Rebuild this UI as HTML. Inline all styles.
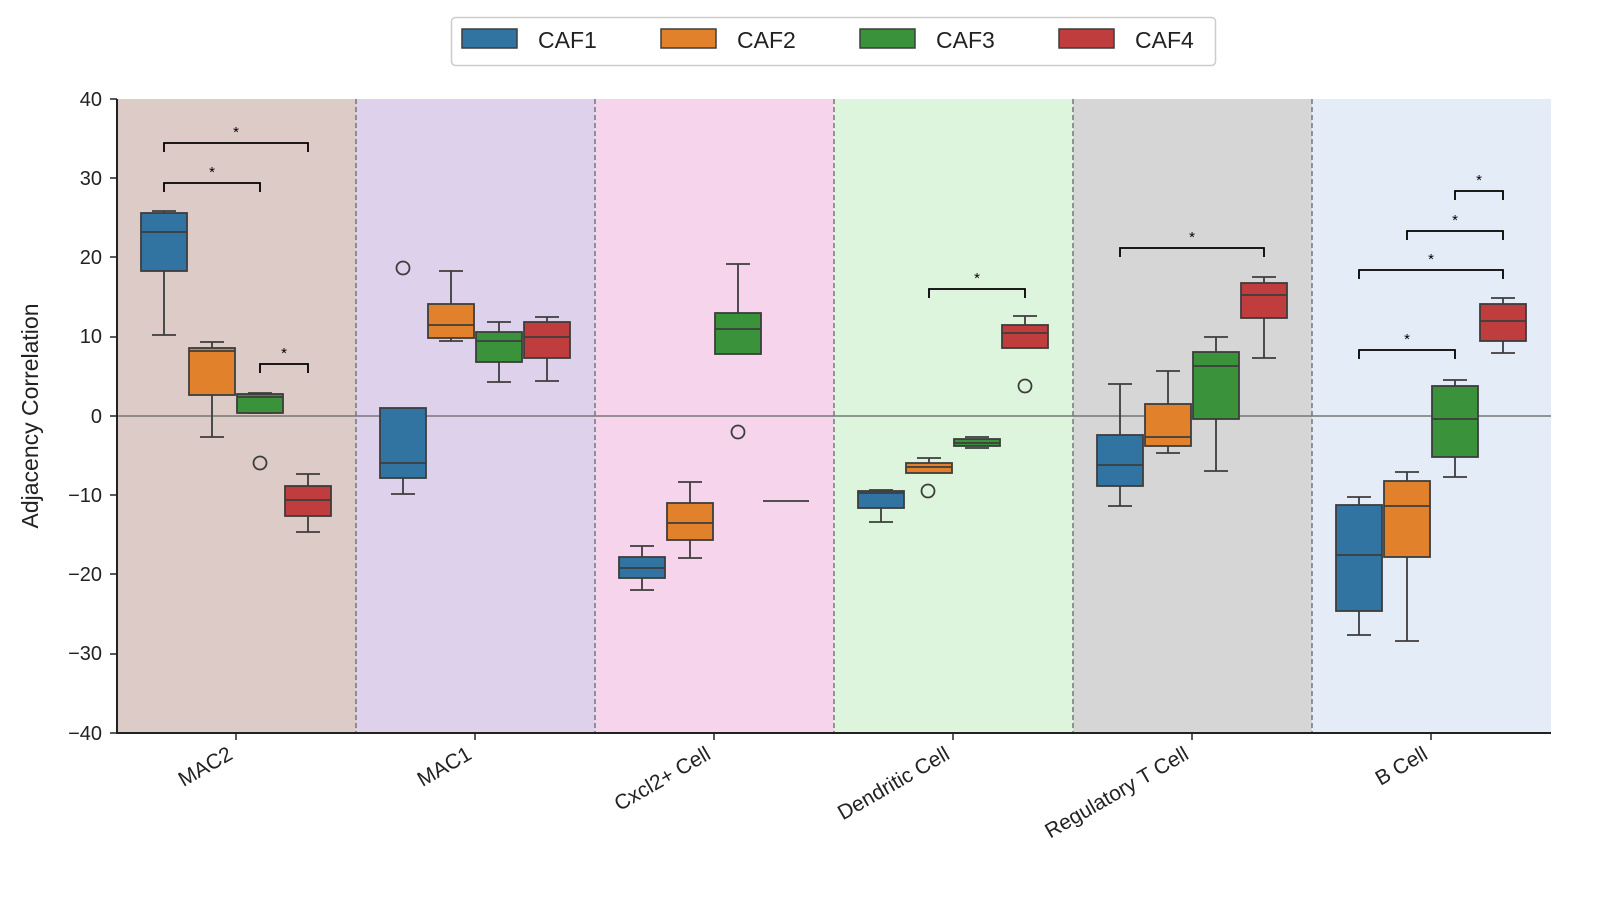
<!DOCTYPE html>
<html><head><meta charset="utf-8"><style>html,body{margin:0;padding:0;background:#fff;overflow:hidden;width:1600px;height:910px}svg{display:block;font-family:"Liberation Sans",Arial,sans-serif}</style></head><body>
<svg width="1600" height="910" viewBox="0 0 1600 910" xmlns="http://www.w3.org/2000/svg">
<rect x="117" y="99" width="239" height="634" fill="#dccbc7"/>
<rect x="356" y="99" width="239" height="634" fill="#ddd1ec"/>
<rect x="595" y="99" width="239" height="634" fill="#f5d4ec"/>
<rect x="834" y="99" width="239" height="634" fill="#ddf5dd"/>
<rect x="1073" y="99" width="239" height="634" fill="#d6d6d6"/>
<rect x="1312" y="99" width="239" height="634" fill="#e4ecf7"/>
<g stroke="#777" stroke-width="1.5" stroke-dasharray="5,3">
<line x1="356" y1="99" x2="356" y2="733"/><line x1="595" y1="99" x2="595" y2="733"/><line x1="834" y1="99" x2="834" y2="733"/><line x1="1073" y1="99" x2="1073" y2="733"/><line x1="1312" y1="99" x2="1312" y2="733"/>
</g>
<line x1="117" y1="416" x2="1551" y2="416" stroke="#777" stroke-width="1.5"/>
<g stroke="#3d3d3d" stroke-width="1.8">
<!-- MAC2 -->
<path d="M164 211V213M164 271V335M152 211H176M152 335H176" fill="none"/><rect x="141" y="213" width="46" height="58" fill="#3274a1"/><path d="M141 232H187"/>
<path d="M212 342V348M212 395V437M200 342H224M200 437H224" fill="none"/><rect x="189" y="348" width="46" height="47" fill="#e1812c"/><path d="M189 351H235"/>
<path d="M248 393H272M248 413H272" fill="none"/><rect x="237" y="394" width="46" height="19" fill="#3a923a"/><path d="M237 397H283"/>
<path d="M308 474V486M308 516V532M296 474H320M296 532H320" fill="none"/><rect x="285" y="486" width="46" height="30" fill="#c03d3e"/><path d="M285 500H331"/>
<!-- MAC1 -->
<path d="M403 478V494M391 494H415" fill="none"/><rect x="380" y="408" width="46" height="70" fill="#3274a1"/><path d="M380 463H426"/>
<path d="M451 271V304M451 338V341M439 271H463M439 341H463" fill="none"/><rect x="428" y="304" width="46" height="34" fill="#e1812c"/><path d="M428 325H474"/>
<path d="M499 322V332M499 362V382M487 322H511M487 382H511" fill="none"/><rect x="476" y="332" width="46" height="30" fill="#3a923a"/><path d="M476 341H522"/>
<path d="M547 317V322M547 358V381M535 317H559M535 381H559" fill="none"/><rect x="524" y="322" width="46" height="36" fill="#c03d3e"/><path d="M524 337H570"/>
<!-- Cxcl2 -->
<path d="M642 546V557M642 578V590M630 546H654M630 590H654" fill="none"/><rect x="619" y="557" width="46" height="21" fill="#3274a1"/><path d="M619 568H665"/>
<path d="M690 482V503M690 540V558M678 482H702M678 558H702" fill="none"/><rect x="667" y="503" width="46" height="37" fill="#e1812c"/><path d="M667 523H713"/>
<path d="M738 264V313M726 264H750" fill="none"/><rect x="715" y="313" width="46" height="41" fill="#3a923a"/><path d="M715 329H761"/>
<path d="M763 501H809"/>
<!-- Dendritic -->
<path d="M881 508V522M869 490H893M869 522H893" fill="none"/><rect x="858" y="491" width="46" height="17" fill="#3274a1"/><path d="M858 493H904"/>
<path d="M929 458V463M917 458H941" fill="none"/><rect x="906" y="463" width="46" height="10" fill="#e1812c"/><path d="M906 467H952"/>
<path d="M965 437H989M965 448H989" fill="none"/><rect x="954" y="439" width="46" height="7" fill="#3a923a"/><path d="M954 443H1000"/>
<path d="M1025 316V325M1013 316H1037" fill="none"/><rect x="1002" y="325" width="46" height="23" fill="#c03d3e"/><path d="M1002 333H1048"/>
<!-- Reg T -->
<path d="M1120 384V435M1120 486V506M1108 384H1132M1108 506H1132" fill="none"/><rect x="1097" y="435" width="46" height="51" fill="#3274a1"/><path d="M1097 465H1143"/>
<path d="M1168 371V404M1168 446V453M1156 371H1180M1156 453H1180" fill="none"/><rect x="1145" y="404" width="46" height="42" fill="#e1812c"/><path d="M1145 437H1191"/>
<path d="M1216 337V352M1216 419V471M1204 337H1228M1204 471H1228" fill="none"/><rect x="1193" y="352" width="46" height="67" fill="#3a923a"/><path d="M1193 366H1239"/>
<path d="M1264 277V283M1264 318V358M1252 277H1276M1252 358H1276" fill="none"/><rect x="1241" y="283" width="46" height="35" fill="#c03d3e"/><path d="M1241 295H1287"/>
<!-- B cell -->
<path d="M1359 497V505M1359 611V635M1347 497H1371M1347 635H1371" fill="none"/><rect x="1336" y="505" width="46" height="106" fill="#3274a1"/><path d="M1336 555H1382"/>
<path d="M1407 472V481M1407 557V641M1395 472H1419M1395 641H1419" fill="none"/><rect x="1384" y="481" width="46" height="76" fill="#e1812c"/><path d="M1384 506H1430"/>
<path d="M1455 380V386M1455 457V477M1443 380H1467M1443 477H1467" fill="none"/><rect x="1432" y="386" width="46" height="71" fill="#3a923a"/><path d="M1432 419H1478"/>
<path d="M1503 298V304M1503 341V353M1491 298H1515M1491 353H1515" fill="none"/><rect x="1480" y="304" width="46" height="37" fill="#c03d3e"/><path d="M1480 321H1526"/>
<!-- outliers -->
<g fill="none"><circle cx="260" cy="463" r="6.5"/><circle cx="403" cy="268" r="6.5"/><circle cx="738" cy="432" r="6.5"/><circle cx="928" cy="491" r="6.5"/><circle cx="1025" cy="386" r="6.5"/></g>
</g>
<g fill="none" stroke="#000" stroke-width="1.8">
<polyline points="164,192 164,183 260,183 260,192"/>
<polyline points="164,152 164,143 308,143 308,152"/>
<polyline points="260,373 260,364 308,364 308,373"/>
<polyline points="929,298 929,289 1025,289 1025,298"/>
<polyline points="1120,257 1120,248 1264,248 1264,257"/>
<polyline points="1359,359 1359,350 1455,350 1455,359"/>
<polyline points="1359,279 1359,270 1503,270 1503,279"/>
<polyline points="1407,240 1407,231 1503,231 1503,240"/>
<polyline points="1455,200 1455,191 1503,191 1503,200"/>
</g>
<g font-size="15" text-anchor="middle" fill="#000">
<text x="212" y="177">*</text><text x="236" y="137">*</text><text x="284" y="358">*</text><text x="977" y="283">*</text><text x="1192" y="242">*</text><text x="1407" y="344">*</text><text x="1431" y="264">*</text><text x="1455" y="225">*</text><text x="1479" y="185">*</text>
</g>
<g stroke="#222" stroke-width="2"><line x1="117" y1="99" x2="117" y2="734"/><line x1="116" y1="733" x2="1551" y2="733"/></g>
<g font-size="20" fill="#222" text-anchor="end">
<text x="102" y="106">40</text><text x="102" y="185">30</text><text x="102" y="264">20</text><text x="102" y="343">10</text><text x="102" y="423">0</text><text x="102" y="502">−10</text><text x="102" y="581">−20</text><text x="102" y="660">−30</text><text x="102" y="740">−40</text>
</g>
<g stroke="#222" stroke-width="1.5">
<line x1="110" y1="99" x2="117" y2="99"/><line x1="110" y1="178" x2="117" y2="178"/><line x1="110" y1="257" x2="117" y2="257"/><line x1="110" y1="337" x2="117" y2="337"/><line x1="110" y1="416" x2="117" y2="416"/><line x1="110" y1="495" x2="117" y2="495"/><line x1="110" y1="574" x2="117" y2="574"/><line x1="110" y1="654" x2="117" y2="654"/><line x1="110" y1="733" x2="117" y2="733"/>
<line x1="236" y1="733" x2="236" y2="740"/><line x1="475" y1="733" x2="475" y2="740"/><line x1="714" y1="733" x2="714" y2="740"/><line x1="953" y1="733" x2="953" y2="740"/><line x1="1192" y1="733" x2="1192" y2="740"/><line x1="1431" y1="733" x2="1431" y2="740"/>
</g>
<text transform="translate(38,416) rotate(-90)" font-size="23" fill="#222" text-anchor="middle">Adjacency Correlation</text>
<g font-size="21" fill="#222" text-anchor="end">
<text transform="translate(234,758) rotate(-30)">MAC2</text>
<text transform="translate(473,758) rotate(-30)">MAC1</text>
<text transform="translate(712,758) rotate(-30)">Cxcl2+ Cell</text>
<text transform="translate(951,758) rotate(-30)">Dendritic Cell</text>
<text transform="translate(1190,758) rotate(-30)">Regulatory T Cell</text>
<text transform="translate(1429,758) rotate(-30)">B Cell</text>
</g>
<rect x="451.5" y="17.5" width="764" height="48" rx="4" fill="#fff" stroke="#ccc" stroke-width="1.5"/>
<g stroke="#3d3d3d" stroke-width="1.5">
<rect x="462" y="29" width="55" height="19" fill="#3274a1"/><rect x="661" y="29" width="55" height="19" fill="#e1812c"/><rect x="860" y="29" width="55" height="19" fill="#3a923a"/><rect x="1059" y="29" width="55" height="19" fill="#c03d3e"/>
</g>
<g font-size="23" fill="#222"><text x="538" y="48">CAF1</text><text x="737" y="48">CAF2</text><text x="936" y="48">CAF3</text><text x="1135" y="48">CAF4</text></g>
</svg>
</body></html>
